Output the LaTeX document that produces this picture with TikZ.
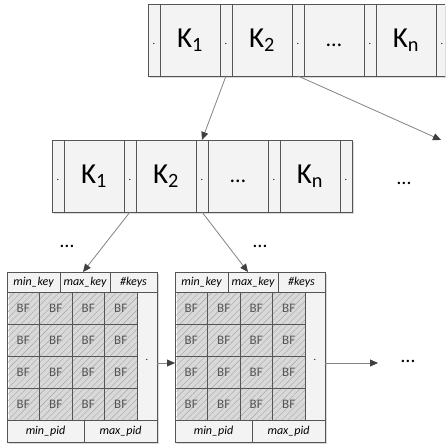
\documentclass[tikz,border=0pt]{standalone}
\usepackage{fontspec}
\setmainfont{Carlito}
\usetikzlibrary{arrows.meta,positioning,patterns.meta,fit,backgrounds,shadows}
\definecolor{edge}{RGB}{85,85,85}
\definecolor{cellfill}{RGB}{243,243,243}
\definecolor{linkgray}{RGB}{130,130,130}
\definecolor{tipgray}{RGB}{64,64,64}
\newcommand\ptrdot{.}
\newcommand\celldots{{\fontsize{22}{22}\selectfont\vphantom{K}\dots}}
\tikzset
{
    cell/.style = {draw=edge, fill=cellfill, line width=0.9pt, inner sep=0pt, outer sep=0pt, anchor=north west},
    keycell/.style = {cell, minimum width=60pt, minimum height=72pt, font=\fontsize{29}{30}\selectfont},
    ptrcell/.style = {cell, minimum width=12pt, minimum height=72pt, font=\fontsize{10}{10}\selectfont, text height=8pt, text depth=0pt},
    hcell/.style = {cell, minimum height=20pt, font=\fontsize{12}{12}\selectfont\itshape},
    fcell/.style = {cell, minimum height=22pt, font=\fontsize{12}{12}\selectfont\itshape},
    bfcell/.style = {cell, fill=none, minimum width=32.5pt, minimum height=32pt, text=edge, font=\fontsize{13}{13}\selectfont,
        pattern={Lines[angle=45,distance=4.5pt,line width=0.4pt]}, pattern color=black!35},
    ptrcol/.style = {cell, minimum width=20pt, minimum height=128pt, font=\fontsize{10}{10}\selectfont, text height=8pt, text depth=0pt},
    frame/.style = {inner sep=0pt, draw=none, drop shadow={shadow xshift=1.5pt, shadow yshift=-1.5pt, opacity=0.3}},
    link/.style = {draw=linkgray, line width=0.8pt, -{Triangle[length=8pt,width=7pt,color=tipgray]}},
    more/.style = {font=\fontsize{20}{20}\selectfont}
}

\begin{document}
\begin{tikzpicture}[x=1pt,y=1pt]
\useasboundingbox (0,0) rectangle (445,-447);
\clip (0,0) rectangle (445,-447);
% two rows of the tree
\foreach \row/\ox/\oy in {t/148/4, m/52/140}{
  \foreach \txt [count=\i from 0] in {\ptrdot,K\textsubscript{1},\ptrdot,K\textsubscript{2},\ptrdot,\celldots,\ptrdot,K\textsubscript{n},\ptrdot}{
    \pgfmathsetmacro\xl{\ox+72*int(\i/2)+12*mod(\i,2)}
    \ifodd\i
      \node[keycell] (\row\i) at (\xl,-\oy) {\txt};
    \else
      \node[ptrcell] (\row\i) at (\xl,-\oy) {\txt};
    \fi
  }
}
% leaf blocks
\foreach \b/\ox in {1/7, 2/175}{
  \node[hcell, minimum width=53pt] (b\b-mink) at (\ox,-272) {min\_key};
  \node[hcell, minimum width=50pt, right=0pt of b\b-mink] (b\b-maxk) {max\_key};
  \node[hcell, minimum width=47pt, right=0pt of b\b-maxk] (b\b-nk) {\#keys};
  \foreach \r in {1,...,4}
    \foreach \c in {1,...,4}
      \node[bfcell] (b\b-\r-\c) at (\ox+32.5*\c-32.5,-260-32*\r) {BF};
  \node[ptrcol] (b\b-ptr) at (\ox+130,-292) {\ptrdot};
  \node[fcell, minimum width=77pt] (b\b-minp) at (\ox,-420) {min\_pid};
  \node[fcell, minimum width=73pt, right=0pt of b\b-minp] (b\b-maxp) {max\_pid};
}
\begin{scope}[on background layer]
  \node[frame, fit=(t0)(t8)] {};
  \node[frame, fit=(m0)(m8)] {};
  \node[frame, fit=(b1-mink)(b1-nk)(b1-maxp)] {};
  \node[frame, fit=(b2-mink)(b2-nk)(b2-maxp)] {};
\end{scope}
% the dots
\node[more] (e0) at (404,-183) {\dots};
\node[more] (e1) at (67,-246) {\dots};
\node[more] (e2) at (260,-246) {\dots};
\node[more] (e3) at (408,-361) {\dots};
% pointers
\coordinate (tr) at (441,-140);
\coordinate (j1) at ([yshift=-7pt]b1-ptr.east);
\coordinate (j2) at ([yshift=-7pt]b2-ptr.east);
\coordinate (fw) at (378,-363);
\draw[link] (t2.south) -- (m4.north);
\draw[link] (t4.south) -- (tr);
\draw[link] (m2.south) -- ([xshift=-2pt]b1-maxk.north);
\draw[link] (m4.south) -- ([xshift=-5pt]b2-maxk.north);
\draw[link] (j1) -- (j1 -| b2-3-1.west);
\draw[link] (j2) -- (fw);
\end{tikzpicture}
\end{document}
